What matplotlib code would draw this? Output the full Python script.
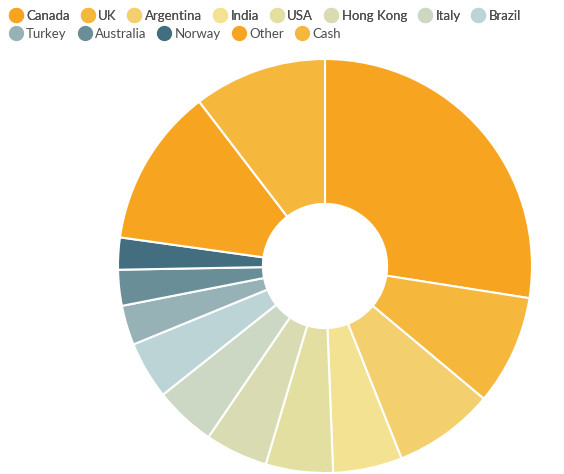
import matplotlib
matplotlib.use('Agg')
import matplotlib.pyplot as plt
from matplotlib.lines import Line2D

plt.rcParams['font.family'] = ['Lato', 'DejaVu Sans']

countries = ['Canada', 'UK', 'Argentina', 'India', 'USA', 'Hong Kong', 'Italy',
             'Brazil', 'Turkey', 'Australia', 'Norway', 'Other', 'Cash']
shares = [27.5, 8.6, 7.9, 5.4, 5.25, 4.9, 4.8, 4.5, 3.1, 2.8, 2.5, 12.4, 10.4]
colors = ['#F7A521', '#F5B83D', '#F3CF6E', '#F2E292', '#E3DFA0', '#D9DCB2',
          '#CCD8C4', '#BDD4D6', '#96B2B6', '#6A8E98', '#426E80', '#F7A521', '#F5B83D']

W, H = 564, 474
fig = plt.figure(figsize=(W / 100, H / 100), dpi=100)

cx, cy, R = 325, 266, 207
ax = fig.add_axes([(cx - R) / W, (H - cy - R) / H, 2 * R / W, 2 * R / H])
ax.pie(shares, colors=colors, startangle=90, counterclock=False, radius=1,
       wedgeprops=dict(width=0.7, edgecolor='white', linewidth=1.5))
ax.set_xlim(-1, 1)
ax.set_ylim(-1, 1)
ax.set_aspect('equal')
ax.axis('off')

handles = [Line2D([], [], marker='o', linestyle='', markersize=10,
                  markerfacecolor=c, markeredgecolor=c) for c in colors]

common = dict(frameon=False, handletextpad=0.3, columnspacing=0.85,
              handlelength=1.0, fontsize=9.5, labelcolor='#4d4d4d',
              borderpad=0, borderaxespad=0)
leg1 = fig.legend(handles[:8], countries[:8], ncol=8, loc='center left',
                  bbox_to_anchor=(9 / W, 1 - 16 / H), **common)
fig.add_artist(leg1)
fig.legend(handles[8:], countries[8:], ncol=5, loc='center left',
           bbox_to_anchor=(9 / W, 1 - 34 / H), **common)

fig.savefig('out.png', dpi=100)
print("saved: out.png")
